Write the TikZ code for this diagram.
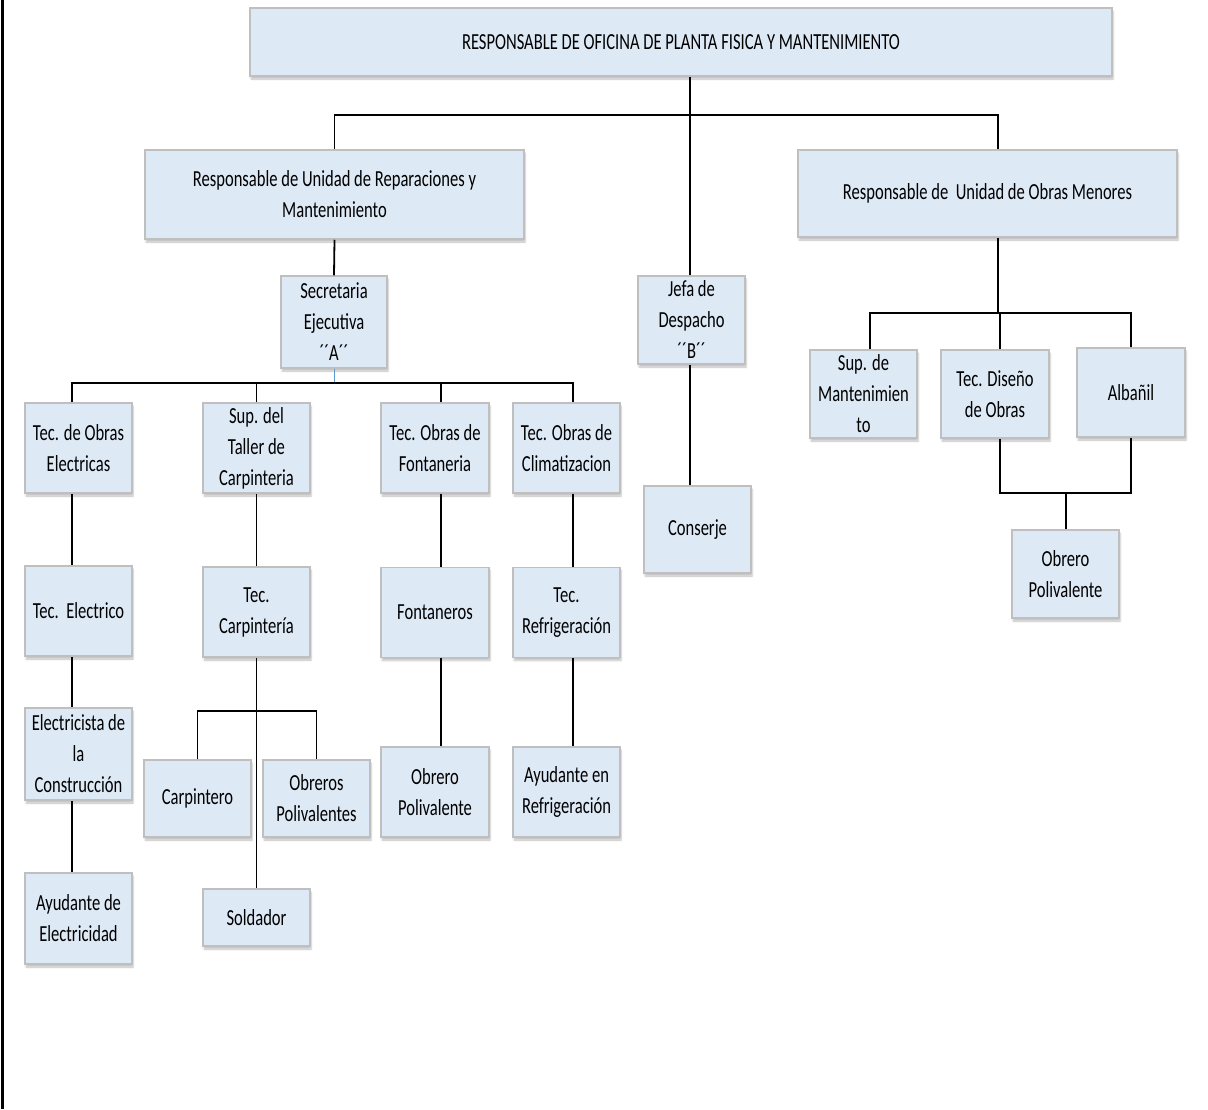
\documentclass[tikz,border=0pt]{standalone}
\usepackage{fontspec}
\setmainfont{Carlito}[FakeStretch=0.72]
\usetikzlibrary{shadows.blur}
\definecolor{boxfill}{RGB}{222,233,246}
\definecolor{boxline}{RGB}{191,191,191}
\definecolor{linkblue}{RGB}{91,155,213}
\begin{document}
\begin{tikzpicture}[x=1pt,y=-1pt,
	box/.style={draw=boxline,line width=1.5pt,fill=boxfill,align=center,inner sep=0pt,
		minimum width=107pt,minimum height=90pt,
		font=\fontsize{23}{31}\selectfont,
		blur shadow={shadow xshift=1pt,shadow yshift=-3pt,shadow blur steps=5,shadow opacity=25}},
	link/.style={line width=1.8pt}]
	\useasboundingbox (0,0) rectangle (1208,1109);
	\draw[line width=3pt] (2,0) to (2,1109);
	\node[box,minimum width=862pt,minimum height=68pt] (top) at (681,42) {RESPONSABLE DE OFICINA DE PLANTA FISICA Y MANTENIMIENTO};
	\node[box,minimum width=379pt,minimum height=89pt] (resrep) at (334.5,194.5) {Responsable de Unidad de Reparaciones y\\Mantenimiento};
	\node[box,minimum width=379pt,minimum height=87pt] (resobr) at (987.5,193.5) {Responsable de\ \ Unidad de Obras Menores};
	\node[box,minimum width=106pt,minimum height=92pt] (secre) at (334,322) {Secretaria\\Ejecutiva\\´´A´´};
	\node[box,minimum height=88pt] (jefa) at (691.5,320) {Jefa de\\Despacho\\´´B´´};
	\node[box,minimum height=87pt] (conserje) at (697.5,529.5) {Conserje};
	\node[box] (tecelec) at (78.5,448) {Tec. de Obras\\Electricas};
	\node[box] (suptal) at (256.5,448) {Sup. del\\Taller de\\Carpinteria};
	\node[box,minimum width=108pt] (tecfon) at (435,448) {Tec. Obras de\\Fontaneria};
	\node[box] (tecclim) at (566.5,448) {Tec. Obras de\\Climatizacion};
	\node[box] (tecelc) at (78.5,611) {Tec.\ \ Electrico};
	\node[box] (teccarp) at (256.5,612) {Tec.\\Carpintería};
	\node[box,minimum width=108pt] (fontan) at (435,612.5) {Fontaneros};
	\node[box] (tecref) at (566.5,612.5) {Tec.\\Refrigeración};
	\node[box,minimum height=92pt] (electri) at (78.5,754) {Electricista de\\la\\Construcción};
	\node[box,minimum height=77pt] (carpin) at (197.5,798.5) {Carpintero};
	\node[box,minimum height=77pt] (obreros) at (316.5,798.5) {Obreros\\Polivalentes};
	\node[box,minimum width=108pt] (obrpol) at (435,792) {Obrero\\Polivalente};
	\node[box] (ayuref) at (566.5,792) {Ayudante en\\Refrigeración};
	\node[box,minimum height=91pt] (ayuele) at (78.5,918.5) {Ayudante de\\Electricidad};
	\node[box,minimum height=57pt] (soldador) at (256.5,917.5) {Soldador};
	\node[box,minimum height=88pt] (supmant) at (863.5,394) {Sup. de\\Mantenimien\\to};
	\node[box,minimum width=108pt,minimum height=88pt] (tecdis) at (995,394) {Tec. Diseño\\de Obras};
	\node[box,minimum width=108pt,minimum height=89pt] (albanil) at (1131,392.5) {Albañil};
	\node[box,minimum height=88pt] (obrpol2) at (1065.5,574) {Obrero\\Polivalente};
	\coordinate (bus1) at (690,115);
	\coordinate (bus2) at (334,383);
	\coordinate (bus3) at (257,711);
	\coordinate (bus4) at (998,313);
	\coordinate (bus5) at (1066,493);
	\coordinate (colelec) at (72,0);
	\coordinate (colfon) at (441,0);
	\coordinate (colclim) at (573,0);
	\coordinate (colsup) at (870,0);
	\coordinate (coldis) at (1000,0);
	\draw[link] (top.south -| bus1) to (jefa.north -| bus1);
	\draw[link] (resrep.north) |- (bus1) -| (resobr.north -| bus4);
	\draw[link] (resrep.south) to (secre.north);
	\draw[link,linkblue,line width=1pt] (secre.south) to (bus2);
	\draw[link] (tecelec.north -| colelec) |- (bus2) -| (tecclim.north -| colclim);
	\draw[link] (suptal.north) to (suptal.north |- bus2);
	\draw[link] (tecfon.north -| colfon) to (colfon |- bus2);
	\draw[link] (tecelec.south -| colelec) to (tecelc.north -| colelec);
	\draw[link] (tecelc.south -| colelec) to (electri.north -| colelec);
	\draw[link] (electri.south -| colelec) to (ayuele.north -| colelec);
	\draw[link] (suptal) to (teccarp) to (soldador);
	\draw[link] (carpin.north) |- (bus3) -| (obreros.north);
	\draw[link] (tecfon.south -| colfon) to (fontan.north -| colfon);
	\draw[link] (fontan.south -| colfon) to (obrpol.north -| colfon);
	\draw[link] (tecclim.south -| colclim) to (tecref.north -| colclim);
	\draw[link] (tecref.south -| colclim) to (ayuref.north -| colclim);
	\draw[link] (jefa.south -| bus1) to (conserje.north -| bus1);
	\draw[link] (resobr.south -| bus4) to (bus4);
	\draw[link] (supmant.north -| colsup) |- (bus4) -| (albanil.north);
	\draw[link] (tecdis.north -| coldis) to (coldis |- bus4);
	\draw[link] (tecdis.south -| coldis) |- (bus5) -| (albanil.south);
	\draw[link] (bus5) to (obrpol2.north -| bus5);
\end{tikzpicture}
\end{document}
